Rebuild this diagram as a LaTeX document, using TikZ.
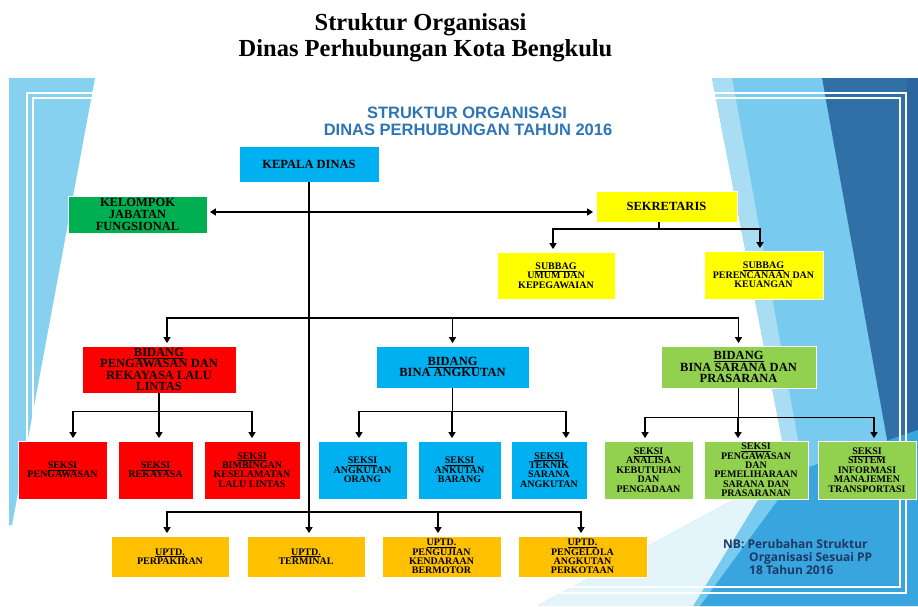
\documentclass[tikz,border=0pt]{standalone}
\usepackage{fontspec}
\setmainfont{Liberation Serif}
\newfontfamily\arialf{Liberation Sans}
\newfontfamily\nbfont{Open Sans}
\usetikzlibrary{arrows.meta,calc}
\definecolor{cyanbox}{HTML}{00B0F0}
\definecolor{greenbox}{HTML}{00B050}
\definecolor{yellowbox}{HTML}{FFFF00}
\definecolor{redbox}{HTML}{FF0000}
\definecolor{lgreenbox}{HTML}{92D050}
\definecolor{orangebox}{HTML}{FFC000}
\definecolor{titleblue}{HTML}{2E75B6}
\definecolor{nbblue}{HTML}{1F3864}
\definecolor{panelblue}{HTML}{86D0F0}
\definecolor{lightblue}{HTML}{78CBEE}
\definecolor{paleband}{HTML}{A9DDF3}
\definecolor{deepblue}{HTML}{3170A7}
\definecolor{edgeblue}{HTML}{2C66A0}
\definecolor{midblue}{HTML}{38A5DE}
\definecolor{paleblue}{HTML}{E4F4FB}
\tikzset{
  orgbox/.style={rectangle, draw=white, line width=0.8pt, inner sep=0pt, align=center, text=black,
    font=\bfseries\fontsize{12.5}{11.6}\selectfont},
  smallbox/.style={orgbox, font=\bfseries\fontsize{10}{9.4}\selectfont},
  conn/.style={line width=1.8pt, black},
  arr/.style={conn, -{Triangle[length=6pt,width=7pt]}, shorten >=2.5pt},
  dblarr/.style={conn, {Triangle[length=6pt,width=7pt]}-{Triangle[length=6pt,width=7pt]}, shorten >=2.5pt, shorten <=2.5pt},
  titletext/.style={inner sep=0pt, anchor=base, font=\bfseries\fontsize{24.5}{28}\selectfont},
  innertitle/.style={inner sep=0pt, anchor=base, text=titleblue, font=\arialf\bfseries\fontsize{16.5}{18}\selectfont},
  nbtext/.style={inner sep=0pt, anchor=base west, text=nbblue, font=\nbfont\bfseries\fontsize{12}{13}\selectfont}
}
\begin{document}
\begin{tikzpicture}[x=1pt,y=-1pt]
\useasboundingbox (0,0) rectangle (918,606);
\fill[white] (0,0) rectangle (918,606);
% left decoration
\fill[panelblue] (9,78) -- (95,78) -- (12,525) -- (9,525) -- cycle;
% right decoration
\fill[lightblue] (712,78) -- (822,78) -- (918,560) -- (918,606) -- (690,606) -- (785,455) -- cycle;
\fill[paleband] (712,78) -- (732,78) -- (798,440) -- (785,455) -- cycle;
\fill[deepblue] (822,78) -- (918,78) -- (918,470) -- (888,445) -- cycle;
\fill[edgeblue] (907,78) -- (918,78) -- (918,470) -- (907,461) -- cycle;
\fill[midblue] (700,606) -- (800,470) -- (918,430) -- (918,606) -- cycle;
\fill[paleblue] (537,606) -- (770,480) -- (693,606) -- cycle;
\draw[white!70!lightblue, line width=0.6pt] (537,606) -- (770,480);
% frame
\draw[white, line width=1.2pt] (27,93) rectangle (906,593);
\draw[white, line width=1.2pt] (33,98) rectangle (900,587);
% titles
\node[titletext] (t1) at (420.5,30) {Struktur Organisasi};
\node[titletext] (t2) at (425.5,56) {Dinas Perhubungan Kota Bengkulu};
\node[innertitle] (it1) at (467,118) {STRUKTUR ORGANISASI};
\node[innertitle] (it2) at (468,135) {DINAS PERHUBUNGAN TAHUN 2016};
% top level
\node[orgbox, fill=cyanbox, minimum width=140pt, minimum height=36pt] (kepala) at (309,164) {KEPALA DINAS};
\node[orgbox, fill=greenbox, minimum width=139pt, minimum height=37pt] (kelompok) at (137.5,214.5) {KELOMPOK\\JABATAN\\FUNGSIONAL};
\node[orgbox, fill=yellowbox, minimum width=141pt, minimum height=31pt] (sekretaris) at (666.5,206.5) {SEKRETARIS};
\node[smallbox, fill=yellowbox, minimum width=118pt, minimum height=47pt] (subbag1) at (556,275.5) {\underline{SUBBAG}\\UMUM DAN\\KEPEGAWAIAN};
\node[smallbox, fill=yellowbox, minimum width=119pt, minimum height=48pt] (subbag2) at (763.5,275) {\underline{SUBBAG}\\PERENCANAAN DAN\\KEUANGAN};
% bidang
\node[orgbox, fill=redbox, minimum width=154pt, minimum height=47pt] (bidang1) at (159,369.5) {\underline{BIDANG}\\PENGAWASAN DAN\\REKAYASA LALU\\LINTAS};
\node[orgbox, fill=cyanbox, minimum width=153pt, minimum height=42pt] (bidang2) at (452.5,367) {\underline{BIDANG}\\BINA ANGKUTAN};
\node[orgbox, fill=lgreenbox, minimum width=155pt, minimum height=42pt] (bidang3) at (738.5,367) {\underline{BIDANG}\\BINA SARANA DAN\\PRASARANA};
% seksi
\node[smallbox, fill=redbox, minimum width=89pt, minimum height=58pt] (r1) at (62.5,470) {\underline{SEKSI}\\PENGAWASAN};
\node[smallbox, fill=redbox, minimum width=75pt, minimum height=58pt] (r2) at (155.5,470) {\underline{SEKSI}\\REKAYASA};
\node[smallbox, fill=redbox, minimum width=96pt, minimum height=58pt] (r3) at (252,470) {\underline{SEKSI}\\BIMBINGAN\\KESELAMATAN\\LALU LINTAS};
\node[smallbox, fill=cyanbox, minimum width=89pt, minimum height=58pt] (b1) at (362.5,470) {\underline{SEKSI}\\ANGKUTAN\\ORANG};
\node[smallbox, fill=cyanbox, minimum width=83pt, minimum height=58pt] (b2) at (459.5,470) {\underline{SEKSI}\\ANKUTAN\\BARANG};
\node[smallbox, fill=cyanbox, minimum width=76pt, minimum height=58pt] (b3) at (549,470) {\underline{SEKSI}\\TEKNIK\\SARANA\\ANGKUTAN};
\node[smallbox, fill=lgreenbox, minimum width=89pt, minimum height=58pt] (g1) at (648.5,470) {\underline{SEKSI}\\ANALISA\\KEBUTUHAN\\DAN\\PENGADAAN};
\node[smallbox, fill=lgreenbox, minimum width=104pt, minimum height=58pt] (g2) at (756,470) {\underline{SEKSI}\\PENGAWASAN\\DAN\\PEMELIHARAAN\\SARANA DAN\\PRASARANAN};
\node[smallbox, fill=lgreenbox, minimum width=98pt, minimum height=58pt] (g3) at (867,470) {\underline{SEKSI}\\SISTEM\\INFORMASI\\MANAJEMEN\\TRANSPORTASI};
% uptd
\node[smallbox, fill=orangebox, minimum width=118pt, minimum height=41pt] (u1) at (170,556.5) {\underline{UPTD.}\\PERPAKIRAN};
\node[smallbox, fill=orangebox, minimum width=118pt, minimum height=41pt] (u2) at (306,556.5) {\underline{UPTD.}\\TERMINAL};
\node[smallbox, fill=orangebox, minimum width=119pt, minimum height=41pt] (u3) at (441.5,556.5) {\underline{UPTD.}\\PENGUJIAN\\KENDARAAN\\BERMOTOR};
\node[smallbox, fill=orangebox, minimum width=129pt, minimum height=41pt] (u4) at (582.5,556.5) {\underline{UPTD.}\\PENGELOLA\\ANGKUTAN\\PERKOTAAN};
% NB
\node[nbtext] (nb1) at (723,548) {NB: Perubahan Struktur};
\node[nbtext] (nb2) at (749,561) {Organisasi Sesuai PP};
\node[nbtext] (nb3) at (749,574) {18 Tahun 2016};
% connectors
\coordinate (hk) at (309,212);
\coordinate (bbus) at (309,318);
\coordinate (ubus) at (309,512);
\coordinate (sbus) at (659,229);
\draw[arr] (kepala.south) -- (kepala.south |- u2.north);
\draw[dblarr] (kelompok.east |- hk) -- (sekretaris.west |- hk);
\draw[conn] ([xshift=-7.5pt]sekretaris.south) -- (sbus);
\draw[arr] (sbus) -| ([xshift=-3pt]subbag1.north);
\draw[arr] (sbus) -| ([xshift=-3.5pt]subbag2.north);
\draw[arr] (bbus) -| ([xshift=8pt]bidang1.north);
\draw[arr] (bbus) -| (bidang3.north);
\draw[arr] (bbus -| bidang2.north) -- (bidang2.north);
\draw[conn] (bidang1.south) -- ++(0,18) coordinate (rbus);
\draw[arr] (rbus) -| ([xshift=10.5pt]r1.north);
\draw[arr] (rbus) -| ([xshift=3.5pt]r2.north);
\draw[arr] (rbus) -| (r3.north);
\draw[conn] (bidang2.south) -- ++(0,23) coordinate (bbus2);
\draw[arr] (bbus2) -| ([xshift=-3.5pt]b1.north);
\draw[arr] (bbus2) -| ([xshift=-7.5pt]b2.north);
\draw[arr] (bbus2) -| ([xshift=17pt]b3.north);
\draw[conn] (bidang3.south) -- ++(0,29) coordinate (gbus);
\draw[arr] (gbus) -| ([xshift=-3.5pt]g1.north);
\draw[arr] (gbus) -| ([xshift=-18pt]g2.north);
\draw[arr] (gbus) -| ([xshift=7pt]g3.north);
\draw[arr] (ubus) -| ([xshift=-3pt]u1.north);
\draw[arr] (ubus) -| ([xshift=-3.5pt]u3.north);
\draw[arr] (ubus) -| ([xshift=-1.5pt]u4.north);
\end{tikzpicture}
\end{document}
